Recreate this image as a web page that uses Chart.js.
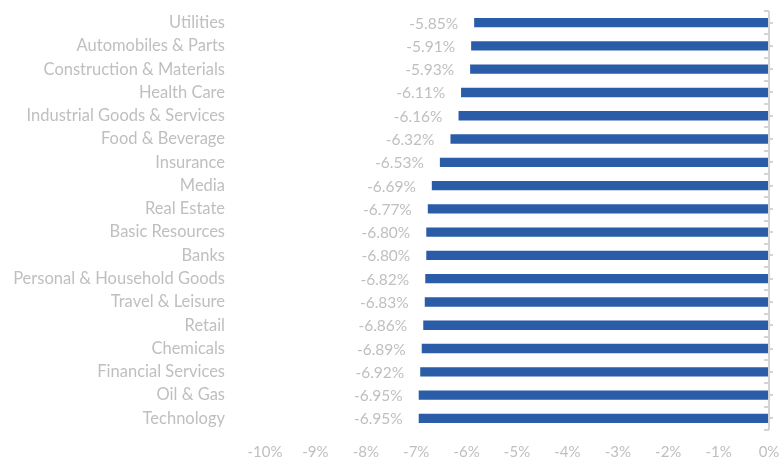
<!DOCTYPE html>
<html>
<head>
<meta charset="utf-8">
<script src="https://cdn.jsdelivr.net/npm/chart.js@4"></script>
<style>
  html, body { margin: 0; padding: 0; background: #fff; overflow: hidden; }
  canvas { display: block; }
</style>
</head>
<body>
<canvas id="bars" width="782" height="460"></canvas>
<script>
// data
const sectors = ['Utilities', 'Automobiles & Parts', 'Construction & Materials', 'Health Care',
  'Industrial Goods & Services', 'Food & Beverage', 'Insurance', 'Media', 'Real Estate',
  'Basic Resources', 'Banks', 'Personal & Household Goods', 'Travel & Leisure', 'Retail',
  'Chemicals', 'Financial Services', 'Oil & Gas', 'Technology'];
const changes = [-5.85, -5.91, -5.93, -6.11, -6.16, -6.32, -6.53, -6.69, -6.77,
  -6.80, -6.80, -6.82, -6.83, -6.86, -6.89, -6.92, -6.95, -6.95];
const xTicks = [-10, -9, -8, -7, -6, -5, -4, -3, -2, -1, 0];

const grey = '#bfbfbf';
const fontFam = 'Lato, "Open Sans", sans-serif';
Chart.defaults.font.family = fontFam;
Chart.defaults.font.size = 15;
Chart.defaults.color = grey;

// value labels at the end of each bar
const valueLabels = {
  id: 'valueLabels',
  afterDatasetsDraw(chart) {
    const ctx = chart.ctx;
    const meta = chart.getDatasetMeta(0);
    ctx.save();
    ctx.font = '15.5px ' + fontFam;
    ctx.fillStyle = grey;
    ctx.textAlign = 'right';
    ctx.textBaseline = 'middle';
    meta.data.forEach((bar, i) => {
      ctx.fillText(changes[i].toFixed(2) + '%', bar.x - 16, bar.y + 1);
    });
    ctx.restore();
  }
};

// axis line at 0 with small tick marks
const zeroAxis = {
  id: 'zeroAxis',
  afterDraw(chart) {
    const ctx = chart.ctx;
    const x = Math.round(chart.scales.x.getPixelForValue(0));
    const ys = chart.scales.y;
    const top = chart.chartArea.top, bottom = chart.chartArea.bottom;
    const step = (bottom - top) / sectors.length;
    ctx.save();
    ctx.strokeStyle = '#d4d4d4';
    ctx.lineWidth = 2;
    ctx.beginPath();
    ctx.moveTo(x, top);
    ctx.lineTo(x, bottom);
    for (let i = 0; i <= sectors.length; i++) {
      const y = Math.round(top + i * step);
      ctx.moveTo(x - 5, y);
      ctx.lineTo(x, y);
    }
    for (let i = 0; i < sectors.length; i++) {
      const y = Math.round(ys.getPixelForValue(i));
      ctx.moveTo(x, y);
      ctx.lineTo(x + 4, y);
    }
    ctx.stroke();
    ctx.restore();
  }
};

const data = {
  labels: sectors,
  datasets: [{
    data: changes,
    backgroundColor: '#2a5ca8',
    barPercentage: 0.4,
    categoryPercentage: 1.0
  }]
};

const options = {
  indexAxis: 'y',
  responsive: false,
  animation: false,
  devicePixelRatio: 1,
  layout: { padding: { top: 11, right: 0, bottom: 0, left: 0 } },
  plugins: { legend: { display: false }, tooltip: { enabled: false } },
  scales: {
    x: {
      min: -10,
      max: 0,
      afterBuildTicks(axis) { axis.ticks = xTicks.map(v => ({ value: v })); },
      grid: { display: false, drawTicks: false },
      border: { display: false },
      ticks: { padding: 13, callback: v => v + '%' },
      afterFit(axis) {
        axis.height = 30;
        axis.paddingRight = 13;
      }
    },
    y: {
      grid: { display: false, drawTicks: false },
      border: { display: false },
      ticks: { padding: 40, autoSkip: false, font: { size: 16.5 } },
      afterFit(axis) {
        axis.width = 265;
        axis.paddingTop = 0;
        axis.paddingBottom = 0;
      }
    }
  }
};

new Chart(document.getElementById('bars'), {
  type: 'bar',
  data: data,
  options: options,
  plugins: [valueLabels, zeroAxis]
});
</script>
</body>
</html>
